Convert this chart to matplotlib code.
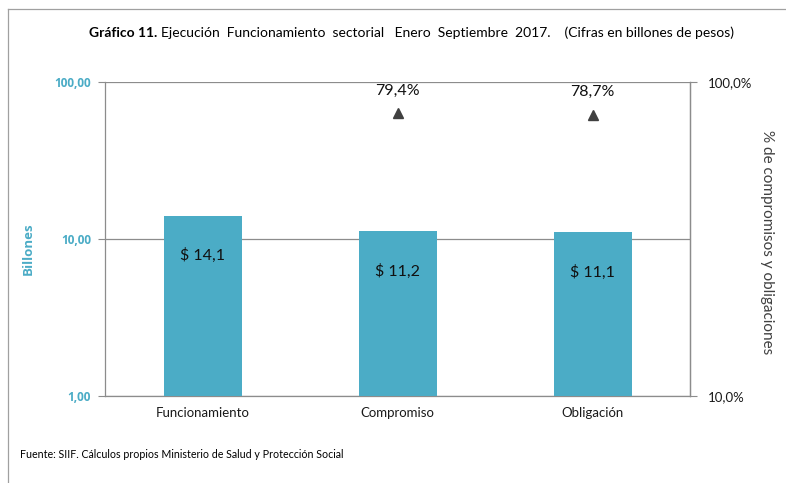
import matplotlib
matplotlib.use("Agg")
import matplotlib.pyplot as plt
from matplotlib.lines import Line2D
from matplotlib.ticker import NullLocator

categories = ["Funcionamiento", "Compromiso", "Obligación"]
billones = [14.1, 11.2, 11.1]
bar_labels = ["$ 14,1", "$ 11,2", "$ 11,1"]
pct_categories = ["Compromiso", "Obligación"]
pct_values = [79.4, 78.7]
pct_labels = ["79,4%", "78,7%"]
left_ticks = [1, 10, 100]
left_tick_labels = ["1,00", "10,00", "100,00"]
right_ticks = [10, 100]
right_tick_labels = ["10,0%", "100,0%"]

FONT = ["Lato", "DejaVu Sans"]
BOLDFONT = ["Open Sans", "DejaVu Sans"]
plt.rcParams['font.family'] = FONT

TEAL = "#4BACC6"
GRID = "#8C8C8C"
DARK = "#404040"

fig = plt.figure(figsize=(7.86, 4.83), dpi=100)
ax = fig.add_axes([105/786, 1-396/483, 585/786, 314/483])

x = list(range(len(categories)))
ax.bar(x, billones, width=0.4, color=TEAL, zorder=3)
ax.set_yscale('log')
ax.set_ylim(1, 100)
ax.set_xlim(-0.5, len(categories) - 0.5)
ax.tick_params(axis='y', length=5, color=GRID, labelcolor=TEAL, pad=5)
ax.set_yticks(left_ticks, left_tick_labels, fontweight='bold', color=TEAL,
              fontsize=8.5, family=BOLDFONT)
ax.yaxis.set_minor_locator(NullLocator())
ax.set_xticks(x)
ax.set_xticklabels(categories, fontsize=9.5, color="#1a1a1a")
ax.tick_params(axis='x', length=0, pad=8)
ax.grid(axis='y', color=GRID, linewidth=0.9, zorder=0)
ax.spines['top'].set_visible(False)
for s in ['left', 'right', 'bottom']:
    ax.spines[s].set_color(GRID)
    ax.spines[s].set_linewidth(0.9)

for xi, v, lab in zip(x, billones, bar_labels):
    ax.annotate(lab, (xi, v), xytext=(0, -40), textcoords='offset pixels',
                ha='center', va='center', fontsize=11.5, color="#111111", zorder=4)

ax.set_ylabel("Billones", color=TEAL, fontweight='bold', fontsize=9.5, family=BOLDFONT)
ax.yaxis.set_label_coords(-70/585, 0.47)

ax2 = ax.twinx()
ax2.set_yscale('log')
ax2.set_ylim(10, 100)
ax2.set_yticks(right_ticks, right_tick_labels)
ax2.yaxis.set_minor_locator(NullLocator())
ax2.tick_params(axis='y', length=5, color=GRID, labelcolor="#1a1a1a", labelsize=9.5, pad=8)
for s in ['top', 'left', 'bottom']:
    ax2.spines[s].set_visible(False)
ax2.spines['right'].set_color(GRID)
ax2.spines['right'].set_linewidth(0.9)
px = [categories.index(c) for c in pct_categories]
ax2.plot(px, pct_values, linestyle='none', marker='^', markersize=7, color=DARK, zorder=5)
for xi, v, lab in zip(px, pct_values, pct_labels):
    ax2.annotate(lab, (xi, v), xytext=(0, 23), textcoords='offset pixels',
                 ha='center', va='center', fontsize=11.5, color="#111111")
ax2.set_ylabel("% de compromisos y obligaciones", rotation=-90, fontsize=11, color=DARK)
ax2.yaxis.set_label_coords(1 + 84/585, 0.49)

# Title
t1 = fig.text(89/786, 1-33/483, "Gráfico 11.", fontweight='bold', fontsize=10, va='center', ha='left')
fig.canvas.draw()
bb = t1.get_window_extent()
fig.text((bb.x1 + 4)/786, 1-33/483,
         "Ejecución  Funcionamiento  sectorial   Enero  Septiembre  2017.    (Cifras en billones de pesos)",
         fontsize=10, va='center', ha='left')

fig.text(20/786, 1-455/483, "Fuente: SIIF. Cálculos propios Ministerio de Salud y Protección Social",
         fontsize=7.7, va='center', ha='left')

# Frame lines
fig.add_artist(Line2D([8/786, 1], [1-9/483, 1-9/483], color="#A0A0A0", linewidth=0.9, transform=fig.transFigure))
fig.add_artist(Line2D([8/786, 8/786], [0, 1-9/483], color="#A0A0A0", linewidth=0.9, transform=fig.transFigure))

fig.savefig("out.png", dpi=100)
